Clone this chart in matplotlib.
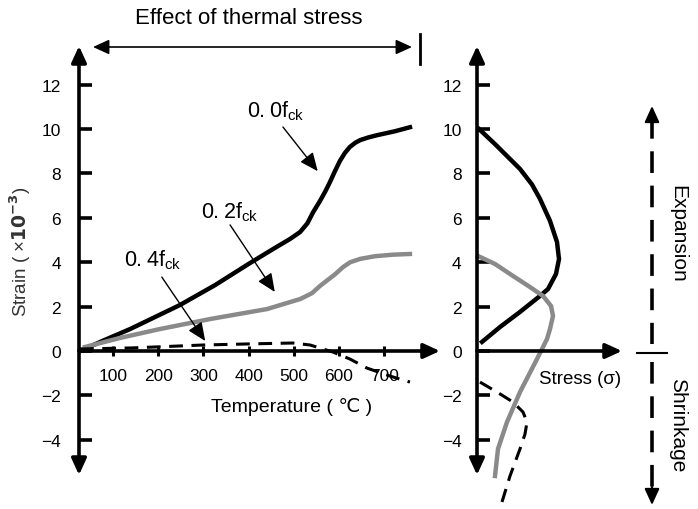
import matplotlib
matplotlib.use("Agg")
import matplotlib.pyplot as plt
from matplotlib.patches import FancyArrowPatch
from matplotlib.lines import Line2D

plt.rcParams['font.family'] = ['Liberation Sans', 'DejaVu Sans']
plt.rcParams['mathtext.default'] = 'regular'

# ---------------- data ----------------
# Left panel: strain (x10^-3) vs temperature (C)
temp_00 = [27, 82, 138, 193, 248, 326, 403, 458, 492, 514, 530, 543, 558, 570, 580, 591,
           602, 613, 624, 636, 647, 665, 684, 724, 757]
strain_00 = [0.0, 0.5, 0.99, 1.53, 2.07, 2.97, 3.96, 4.64, 5.05, 5.36, 5.75, 6.26, 6.76, 7.2,
             7.61, 8.1, 8.56, 8.92, 9.19, 9.38, 9.5, 9.62, 9.72, 9.9, 10.08]

temp_02 = [38, 116, 204, 315, 441, 514, 540, 558, 575, 591, 609, 625, 647, 680, 720, 757]
strain_02 = [0.18, 0.59, 0.99, 1.44, 1.89, 2.34, 2.6, 2.93, 3.2, 3.45, 3.78, 4.0, 4.15, 4.27,
             4.34, 4.37]

temp_04 = [27, 144, 299, 403, 498, 536, 587, 624, 662, 713, 757]
strain_04 = [0.09, 0.14, 0.27, 0.32, 0.36, 0.27, -0.05, -0.36, -0.77, -1.13, -1.40]

# Right panel: stress (arbitrary units) vs strain
stress_00 = [0.2, 1.8, 4.3, 5.5, 6.3, 7.3, 8.0, 8.2, 7.9, 7.1, 6.3, 4.3, 2.3, 0.5]
sstrain_00 = [10.0, 9.32, 8.2, 7.5, 6.85, 5.86, 4.91, 4.14, 3.47, 2.79, 2.48, 1.76, 1.08, 0.41]

stress_02 = [0.1, 1.8, 3.6, 5.3, 6.6, 7.4, 7.6, 7.3, 7.0, 6.0, 4.3, 3.0, 2.1, 1.8]
sstrain_02 = [4.28, 3.92, 3.38, 2.88, 2.48, 2.03, 1.58, 0.99, 0.54, -0.36, -1.85, -3.2, -4.41, -5.63]

stress_04 = [0.3, 2.0, 3.6, 4.6, 5.0, 4.8, 4.3, 3.3, 2.5]
sstrain_04 = [-1.40, -1.85, -2.30, -2.75, -3.20, -3.74, -4.41, -5.63, -6.80]

temp_ticks = [100, 200, 300, 400, 500, 600, 700]
strain_ticks = [-4, -2, 0, 2, 4, 6, 8, 10, 12]
strain_ticklabels = ['\u22124', '\u22122', '0', '2', '4', '6', '8', '10', '12']

# ---------------- figure ----------------
W, H = 698, 510
fig = plt.figure(figsize=(W / 100, H / 100), dpi=100)


def fx(px):
    return px / W


def fy(py):
    return 1 - py / H


top_px, bot_px = 47, 476
ax1 = fig.add_axes([fx(79), fy(bot_px), fx(440) - fx(79), fy(top_px) - fy(bot_px)])
ax2 = fig.add_axes([fx(477), fy(bot_px), fx(622) - fx(477), fy(top_px) - fy(bot_px)])

y_top = (352 - top_px) / 22.2
y_bot = (352 - bot_px) / 22.2

ax1.set_xlim(24.8, 24.8 + (440 - 79) / 0.452)
ax1.set_ylim(y_bot, y_top)
ax2.set_xlim(0, 14.5)
ax2.set_ylim(y_bot, y_top)

BLACK = '#000000'
GRAY = '#8a8a8a'

for ax in (ax1, ax2):
    ax.patch.set_alpha(0)
    for s in ax.spines.values():
        s.set_visible(False)
    ax.spines['bottom'].set_position(('data', 0))
    ax.set_yticks(strain_ticks)
    ax.set_yticklabels(strain_ticklabels, fontsize=12.5)
    ax.tick_params(axis='y', direction='in', length=9, width=2.6, color='black')
    # vertical axis arrow (both ends)
    ax.annotate('', xy=(0, 1), xytext=(0, 0), xycoords='axes fraction',
                arrowprops=dict(arrowstyle='<|-|>,head_length=0.7,head_width=0.32',
                                lw=2.6, color='black', shrinkA=0, shrinkB=0,
                                mutation_scale=14))
    # horizontal axis arrow at zero strain
    ax.annotate('', xy=(1, 0), xytext=(0, 0), xycoords=('axes fraction', 'data'),
                arrowprops=dict(arrowstyle='-|>,head_length=0.7,head_width=0.32',
                                lw=2.6, color='black', shrinkA=0, shrinkB=0,
                                mutation_scale=14))

ax1.tick_params(axis='y', pad=13)
ax2.tick_params(axis='y', pad=11)

ax1.set_xticks(temp_ticks)
ax1.set_xticklabels([str(t) for t in temp_ticks], fontsize=12.5)
ax1.tick_params(axis='x', direction='inout', length=7, width=2.2, pad=9)
ax2.set_xticks([])

# ---- curves left ----
ax1.plot(temp_00, strain_00, color=BLACK, lw=3.2, solid_joinstyle='round', clip_on=False)
ax1.plot(temp_02, strain_02, color=GRAY, lw=3.2, solid_joinstyle='round', clip_on=False)
ax1.plot(temp_04, strain_04, color=BLACK, lw=2.2, ls=(0, (4.5, 2.8)), clip_on=False)

# ---- curves right ----
ax2.plot(stress_00, sstrain_00, color=BLACK, lw=3.2, solid_joinstyle='round', clip_on=False)
ax2.plot(stress_02, sstrain_02, color=GRAY, lw=3.2, solid_joinstyle='round', clip_on=False)
ax2.plot(stress_04, sstrain_04, color=BLACK, lw=2.2, ls=(0, (4.5, 2.8)), clip_on=False)

# ---- annotations ----
ann_style = dict(arrowstyle='-|>,head_length=0.8,head_width=0.35', lw=1.0,
                 color='black', shrinkA=0, shrinkB=0, mutation_scale=14)
ax1.annotate('', xy=(553, 8.1), xytext=(476, 10.09), arrowprops=ann_style)
ax1.annotate('', xy=(458, 2.66), xytext=(359, 5.68), arrowprops=ann_style)
ax1.annotate('', xy=(304, 0.45), xytext=(208, 3.33), arrowprops=ann_style)
ax1.text(461, 10.86, '0.\u20090f$_{ck}$', fontsize=15.5, ha='center', va='center')
ax1.text(359, 6.3, '0.\u20092f$_{ck}$', fontsize=15.5, ha='center', va='center')
ax1.text(188, 4.14, '0.\u20094f$_{ck}$', fontsize=15.5, ha='center', va='center')

# axis labels
fig.text(fx(292), fy(407), 'Temperature ( \u2103 )', fontsize=14, ha='center', va='center')
fig.text(fx(20), fy(252), 'Strain ( \u00d7$\\mathbf{10^{-3}}$)', fontsize=13.5,
         rotation=90, ha='center', va='center', color='#333333')
fig.text(fx(580), fy(380), 'Stress (\u03c3)', fontsize=13.5, ha='center', va='center')

# top: effect of thermal stress
fig.text(fx(249), fy(19), 'Effect of thermal stress', fontsize=16, ha='center', va='center')
fig.add_artist(FancyArrowPatch((fx(93), fy(48)), (fx(412), fy(48)), transform=fig.transFigure,
                               arrowstyle='<|-|>,head_length=0.7,head_width=0.32',
                               mutation_scale=14, lw=1.2, color='black',
                               shrinkA=0, shrinkB=0))
fig.add_artist(Line2D([fx(420), fx(420)], [fy(35), fy(65)], transform=fig.transFigure,
                      color='black', lw=2.0))

# right side: expansion / shrinkage indicator
fig.add_artist(Line2D([fx(652), fx(652)], [fy(118), fy(345)], transform=fig.transFigure,
                      color='black', lw=2.6, ls=(0, (6, 3.5))))
fig.add_artist(Line2D([fx(652), fx(652)], [fy(363), fy(495)], transform=fig.transFigure,
                      color='black', lw=2.6, ls=(0, (6, 3.5))))
fig.add_artist(FancyArrowPatch((fx(652), fy(125)), (fx(652), fy(107)), transform=fig.transFigure,
                               arrowstyle='-|>,head_length=0.7,head_width=0.32',
                               mutation_scale=14, lw=1.5, color='black',
                               shrinkA=0, shrinkB=0))
fig.add_artist(FancyArrowPatch((fx(652), fy(488)), (fx(652), fy(506)), transform=fig.transFigure,
                               arrowstyle='-|>,head_length=0.7,head_width=0.32',
                               mutation_scale=14, lw=1.5, color='black',
                               shrinkA=0, shrinkB=0))
fig.add_artist(Line2D([fx(637), fx(667)], [fy(354), fy(354)], transform=fig.transFigure,
                      color='black', lw=1.5))
fig.text(fx(678), fy(234), 'Expansion', fontsize=15, rotation=-90, ha='center', va='center')
fig.text(fx(678), fy(425), 'Shrinkage', fontsize=15, rotation=-90, ha='center', va='center')

fig.savefig('out.png', dpi=100)
